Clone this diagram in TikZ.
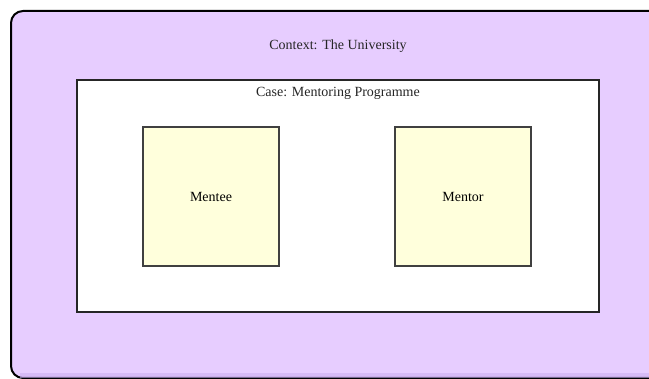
\documentclass[tikz,border=0pt]{standalone}
\usepackage{fontspec}
\setmainfont{Liberation Serif}
\definecolor{contextfill}{RGB}{231,205,255}
\definecolor{contextshade}{RGB}{205,175,240}
\definecolor{actorfill}{RGB}{255,255,220}
\begin{document}
\begin{tikzpicture}[x=1pt, y=-1pt,
    context/.style = {draw=black, line width=2pt, rounded corners=12pt, fill=contextfill, minimum width=669pt, minimum height=367pt},
    case/.style = {draw=black!85, line width=1.2pt, fill=white, minimum width=522pt, minimum height=232pt},
    actor/.style = {draw=black!75, line width=1.5pt, fill=actorfill, minimum width=136pt, minimum height=139pt, font=\fontsize{14}{16}\selectfont},
    label/.style = {font=\fontsize{14}{16}\selectfont, text=black!85}]
    \useasboundingbox (0,0) rectangle (649,379);
    \clip (0,0) rectangle (649,379);
    \node[context] (ctx) at (345.5,194.5) {};
    % darker band along the bottom edge
    \fill[contextshade, opacity=0.6] ([xshift=10pt, yshift=6pt]ctx.south west) rectangle ([yshift=1pt]ctx.south east);
    \node[label] (ctxlabel) at (338,46) {Context: The University};
    \node[case] (case) at (338,196) {};
    \node[label] (caselabel) at (338,93) {Case: Mentoring Programme};
    \node[actor] (mentee) at (211,196.5) {Mentee};
    \node[actor] (mentor) at (463,196.5) {Mentor};
\end{tikzpicture}
\end{document}
